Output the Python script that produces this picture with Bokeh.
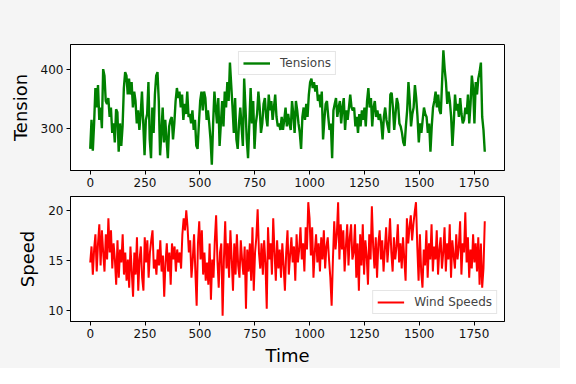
import numpy as np
from bokeh.plotting import figure
from bokeh.layouts import column
from bokeh.models import Range1d
from bokeh.embed import file_html
from bokeh.resources import INLINE

# ---- data ----
tension = [
    266, 315, 263, 309, 369, 336, 374, 315, 336, 301, 401, 390, 347, 342, 352, 320, 336, 293, 309, 277,
    333, 328, 261, 309, 271, 304, 369, 396, 390, 358, 385, 358, 379, 336, 363, 347, 309, 331, 298, 325,
    363, 309, 255, 315, 325, 379, 282, 250, 336, 293, 358, 390, 396, 347, 255, 293, 336, 277, 315, 282,
    250, 304, 315, 320, 282, 309, 347, 369, 352, 363, 336, 358, 315, 342, 325, 363, 320, 325, 309, 331,
    298, 315, 271, 266, 309, 347, 363, 331, 363, 352, 315, 331, 309, 282, 239, 309, 363, 336, 309, 352,
    271, 309,
    347, 304, 363, 336, 379, 347, 412, 374, 336, 293, 352, 282, 266, 309, 336, 304, 271, 385, 336, 282,
    250, 309, 369, 309, 347, 266, 309, 325, 363, 336, 293, 309, 342, 352, 320, 304, 358, 331, 347, 315,
    336, 358, 320, 304, 309, 298, 320, 298, 315, 336, 304, 325, 309, 298, 347, 325, 293, 347, 331, 309,
    293, 266, 320, 336, 315, 342, 320, 358, 379, 385, 369, 379, 363, 374, 347, 358, 336, 363, 282, 315,
    342, 347, 320, 298, 309, 250, 331, 342, 352, 320, 336, 347, 309, 336, 352, 298, 331, 315, 336, 358,
    336, 331,
    336, 304, 320, 293, 325, 304, 331, 315, 336, 304, 347, 369, 336, 352, 304, 336, 347, 320, 331, 315,
    325, 309, 282, 320, 336, 315, 304, 293, 358, 361, 336, 298, 325, 352, 342, 309, 304, 293, 277, 271,
    304, 331, 379, 347, 304, 325, 336, 374, 352, 320, 277, 309, 293, 315, 336, 325, 320, 293, 309, 261,
    304, 336, 347, 363, 336, 358, 331, 325, 379, 433, 401, 379, 342, 363, 347, 320, 271, 309, 358, 331,
    342, 320, 352, 325, 309, 315, 336, 325, 358, 309, 342, 390, 369, 309, 379, 358, 385, 396, 412, 320,
    298, 261,
]

wind_speed = [
    14.8, 16.4, 13.6, 16.1, 17.6, 13.9, 16.7, 18.6, 14.5, 18.0, 15.8, 13.9, 17.6, 15.1, 19.2, 15.8, 18.0, 14.2, 16.7, 15.1,
    12.6, 17.0, 13.3, 16.1, 14.8, 17.6, 13.6, 15.8, 13.0, 15.1, 12.3, 16.4, 13.9, 11.4, 15.8, 13.6, 17.3, 12.0, 15.1, 16.4,
    13.3, 12.0, 17.3, 14.8, 17.0, 13.3, 15.8, 17.0, 18.0, 14.2, 15.1, 13.6, 16.1, 14.5, 17.0, 13.9, 15.5, 11.4, 14.8, 16.7,
    13.9, 15.8, 12.6, 16.7, 15.1, 16.4, 13.9, 16.1, 14.8, 15.8, 14.2, 17.6, 19.2, 18.0, 20.0, 18.3, 15.8, 17.0, 13.3, 15.1,
    17.6, 13.9, 10.5, 16.7, 18.9, 15.1, 18.0, 13.6, 15.8, 13.0, 14.8, 12.6, 16.7, 11.1, 15.1, 13.3, 17.0, 19.5, 15.1, 12.3,
    15.8,
    16.7, 9.5, 15.1, 18.9, 14.2, 16.7, 13.3, 18.0, 15.1, 12.0, 16.7, 13.6, 17.6, 14.5, 13.3, 17.0, 15.1, 13.6, 16.4, 10.2,
    16.1, 13.9, 16.7, 13.0, 18.3, 12.0, 15.8, 17.3, 20.1, 15.8, 14.2, 16.7, 13.6, 17.0, 14.8, 10.2, 18.3, 15.1, 16.7, 13.6,
    19.2, 15.8, 13.0, 17.0, 14.2, 16.1, 13.3, 16.7, 14.5, 12.0, 15.8, 18.0, 13.6, 15.5, 17.3, 14.8, 16.4, 13.0, 17.6, 14.8,
    16.1, 18.3, 15.1, 16.7, 13.9, 18.3, 16.1, 20.8, 19.2, 15.5, 18.3, 13.3, 15.8, 17.6, 14.8, 16.7, 13.9, 17.3, 15.1, 18.0,
    14.2, 16.4, 17.3, 15.1, 13.3, 10.5, 15.1, 18.9, 16.1, 17.6, 20.8, 15.1, 18.6, 16.1, 18.0, 13.9, 16.4, 18.6, 14.5, 17.3,
    18.6, 15.1,
    15.8, 18.6, 13.3, 16.7, 12.0, 17.6, 14.5, 18.6, 13.6, 17.0, 15.5, 12.6, 17.6, 15.1, 20.4, 16.4, 14.2, 17.3, 13.3, 16.7,
    18.0, 15.1, 17.0, 13.9, 16.1, 18.3, 14.8, 16.7, 19.2, 15.8, 13.9, 17.3, 15.1, 16.4, 18.6, 14.8, 16.7, 14.2, 17.3, 15.1,
    13.0, 19.2, 16.7, 18.3, 19.5, 17.0, 18.6, 19.8, 20.8, 16.4, 13.0, 17.6, 13.9, 12.3, 16.1, 14.5, 18.0, 13.3, 16.7, 15.1,
    18.6, 13.9, 16.4, 15.1, 18.0, 13.6, 16.1, 17.3, 14.2, 15.8, 18.3, 13.9, 16.7, 15.1, 18.6, 13.3, 17.0, 15.5, 14.2, 17.6,
    15.1, 16.4, 18.9, 13.6, 16.7, 15.8, 19.8, 14.8, 17.3, 13.3, 16.1, 14.2, 17.6, 14.8, 16.7, 13.9, 17.3, 12.6, 16.7, 12.3,
    14.2, 18.9,
]

time_tension = np.linspace(0, 1799, len(tension))
time_wind = np.linspace(0, 1799, len(wind_speed))

x_ticks = [0, 250, 500, 750, 1000, 1250, 1500, 1750]
tension_ticks = [300, 400]
speed_ticks = [10, 15, 20]

FONT = "DejaVu Sans"
BG = "#f5f5f5"
TICK_SIZE = "12px"
LABEL_SIZE = "18px"


def padded(lo, hi, frac=0.05):
    d = (hi - lo) * frac
    return Range1d(lo - d, hi + d)


def style(p, yticks):
    p.background_fill_color = "white"
    p.border_fill_color = BG
    p.outline_line_color = "black"
    p.outline_line_width = 1
    p.xgrid.visible = False
    p.ygrid.visible = False
    p.xaxis.ticker = x_ticks
    p.yaxis.ticker = yticks
    for ax in (p.xaxis, p.yaxis):
        ax.axis_line_color = "black"
        ax.major_tick_line_color = "black"
        ax.major_tick_in = 0
        ax.major_tick_out = 4
        ax.minor_tick_line_color = None
        ax.major_label_text_font = FONT
        ax.major_label_text_font_size = TICK_SIZE
        ax.major_label_text_color = "#111111"
        ax.major_label_standoff = 3
        ax.axis_label_text_font = FONT
        ax.axis_label_text_font_size = LABEL_SIZE
        ax.axis_label_text_font_style = "normal"
        ax.axis_label_text_color = "black"
    p.yaxis.axis_label_standoff = 7


def style_legend(p, loc):
    lg = p.legend[0]
    lg.location = loc
    lg.label_text_font = FONT
    lg.label_text_font_size = TICK_SIZE
    lg.border_line_color = "#cccccc"
    lg.border_line_width = 1
    lg.background_fill_color = "white"
    lg.background_fill_alpha = 0.8
    lg.glyph_width = 27
    lg.glyph_height = 14
    lg.label_standoff = 10
    lg.padding = 4
    lg.spacing = 0
    lg.margin = 7


p1 = figure(width=560, height=190, output_backend="svg", toolbar_location=None,
            min_border_left=70, min_border_right=56, min_border_top=44, min_border_bottom=20,
            x_range=padded(0, 1799), y_range=padded(min(tension), max(tension)))
p1.line(time_tension, tension, line_color="green", line_width=2.4, legend_label="Tensions")
style(p1, tension_ticks)
p1.yaxis.axis_label = "Tension"
style_legend(p1, "top_center")

p2 = figure(width=560, height=178, output_backend="svg", toolbar_location=None,
            min_border_left=70, min_border_right=56, min_border_top=6, min_border_bottom=46,
            x_range=padded(0, 1799), y_range=padded(min(wind_speed), max(wind_speed)))
p2.line(time_wind, wind_speed, line_color="red", line_width=2.0, legend_label="Wind Speeds")
style(p2, speed_ticks)
p2.yaxis.axis_label = "Speed"
p2.xaxis.axis_label = "Time"
p2.xaxis.axis_label_standoff = 4
p2.xaxis.major_label_standoff = 3
style_legend(p2, "bottom_right")

layout = column(p1, p2, spacing=0, background=BG)

open("out.html", "w").write(file_html(layout, INLINE))
